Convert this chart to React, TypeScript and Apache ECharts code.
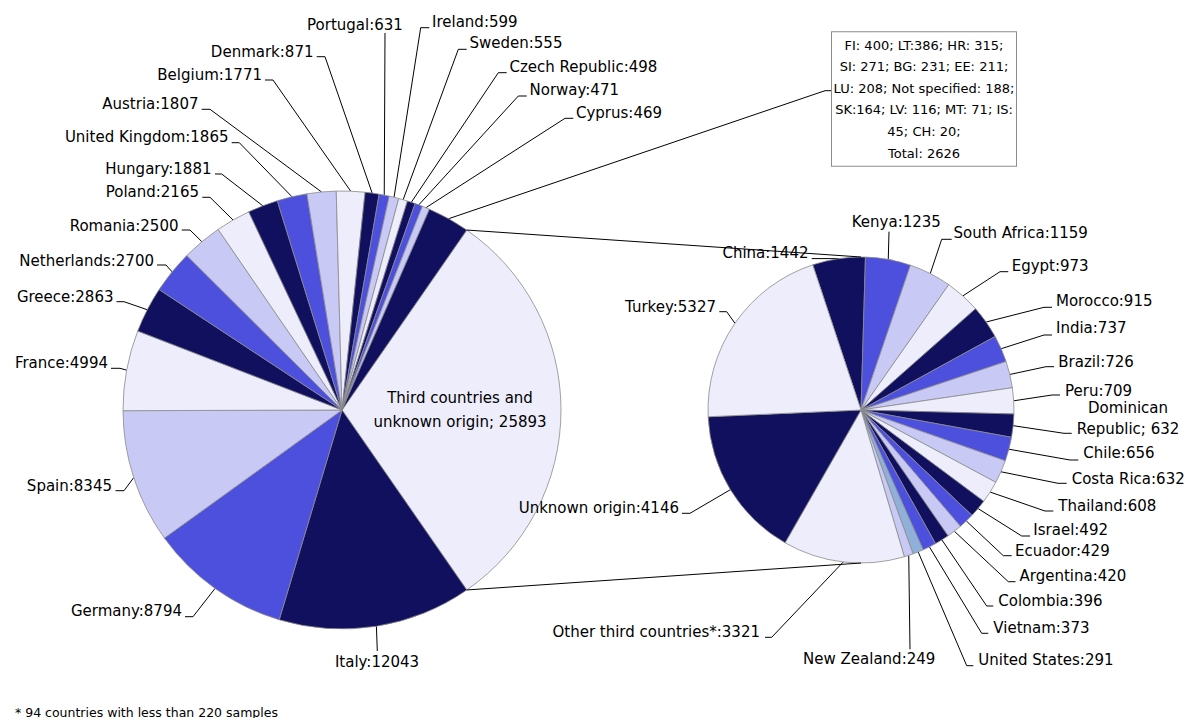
import React, { useEffect, useRef } from 'react';
import * as echarts from 'echarts';

// ---------- DATA ----------
const EU_NAMES = ['Italy', 'Germany', 'Spain', 'France', 'Greece', 'Netherlands', 'Romania', 'Poland', 'Hungary', 'United Kingdom', 'Austria', 'Belgium', 'Denmark', 'Portugal', 'Ireland', 'Sweden', 'Czech Republic', 'Norway', 'Cyprus'];
const EU_VALUES = [12043, 8794, 8345, 4994, 2863, 2700, 2500, 2165, 1881, 1865, 1807, 1771, 871, 631, 599, 555, 498, 471, 469];

const OTHER_EU_CODES = ['FI', 'LT', 'HR', 'SI', 'BG', 'EE', 'LU', 'Not specified', 'SK', 'LV', 'MT', 'IS', 'CH'];
const OTHER_EU_VALUES = [400, 386, 315, 271, 231, 211, 208, 188, 164, 116, 71, 45, 20];
const OTHER_NOTE_LINES = ['FI: 400; LT:386; HR: 315;', 'SI: 271; BG: 231; EE: 211;', 'LU: 208; Not specified: 188;', 'SK:164; LV: 116; MT: 71; IS:', '45; CH: 20;'];

const THIRD_NAME = 'Third countries and unknown origin';
const THIRD_TOTAL = 25893;

const NON_EU_NAMES = ['China', 'Kenya', 'South Africa', 'Egypt', 'Morocco', 'India', 'Brazil', 'Peru', 'Dominican Republic', 'Chile', 'Costa Rica', 'Thailand', 'Israel', 'Ecuador', 'Argentina', 'Colombia', 'Vietnam', 'United States', 'New Zealand', 'Other third countries*', 'Unknown origin', 'Turkey'];
const NON_EU_VALUES = [1442, 1235, 1159, 973, 915, 737, 726, 709, 632, 656, 632, 608, 492, 429, 420, 396, 373, 291, 249, 3321, 4146, 5327];

const FOOTNOTE = '* 94 countries with less than 220 samples';

// ---------- STYLE / LAYOUT ----------
const FONT = 'DejaVu Sans';
const NAVY = '#10105E';
const BLUE = '#4C50DD';
const LAV = '#C8C9F4';
const LIGHT = '#EDEDFB';
const STEEL = '#8FB0D8';

const LEFT_COLORS = [LIGHT, NAVY, BLUE, LAV, LIGHT, NAVY, BLUE, LAV, LIGHT, NAVY, BLUE, LAV, LIGHT, NAVY, BLUE, LAV, LIGHT, NAVY, BLUE, LAV, NAVY];
const RIGHT_COLORS = [NAVY, BLUE, LAV, LIGHT, NAVY, BLUE, LAV, LIGHT, NAVY, BLUE, LAV, LIGHT, NAVY, BLUE, LAV, NAVY, BLUE, STEEL, LAV, LIGHT, NAVY, LIGHT];

const LEFT_PIE = { cx: 342, cy: 410, r: 219 };
const RIGHT_PIE = { cx: 861, cy: 410, r: 153, startAngle: 108.4 };

type Spot = { x: number; y: number; align: 'left' | 'right' | 'center'; via?: number[][] };

const LEFT_SPOTS: Record<string, Spot> = {
  [THIRD_NAME]: { x: 460, y: 410, align: 'center' },
  Italy: { x: 377, y: 661.5, align: 'center', via: [[377.3, 651]] },
  Germany: { x: 182, y: 611, align: 'right', via: [[193, 616.7], [185, 616.7]] },
  Spain: { x: 112, y: 485.5, align: 'right', via: [[124, 490.7], [115.5, 490.7]] },
  France: { x: 108, y: 363, align: 'right', via: [[120, 368.3], [111, 368.3]] },
  Greece: { x: 113.5, y: 297, align: 'right', via: [[124, 301.7], [116.5, 301.7]] },
  Netherlands: { x: 154, y: 260.5, align: 'right', via: [[166, 265], [157, 265]] },
  Romania: { x: 178.5, y: 225.5, align: 'right', via: [[190, 230], [181.7, 230]] },
  Poland: { x: 199, y: 192, align: 'right', via: [[210, 197.3], [202.3, 197.3]] },
  Hungary: { x: 211.5, y: 169, align: 'right', via: [[221.7, 174], [215, 174]] },
  'United Kingdom': { x: 228.5, y: 137, align: 'right', via: [[239.3, 142.7], [231.7, 142.7]] },
  Austria: { x: 198.5, y: 104, align: 'right', via: [[210, 109.3], [201.7, 109.3]] },
  Belgium: { x: 262, y: 74.5, align: 'right', via: [[273, 80], [265, 80]] },
  Denmark: { x: 313.5, y: 51.5, align: 'right', via: [[325, 56.7], [316.7, 56.7]] },
  Portugal: { x: 355, y: 25, align: 'center', via: [[385, 33]] },
  Ireland: { x: 432, y: 22, align: 'left', via: [[420.7, 27.7], [429.3, 27.7]] },
  Sweden: { x: 469.5, y: 43, align: 'left', via: [[458.3, 49.3], [466.7, 49.3]] },
  'Czech Republic': { x: 509.5, y: 66.7, align: 'left', via: [[498.3, 72.7], [506.7, 72.7]] },
  Norway: { x: 529.5, y: 90, align: 'left', via: [[518.3, 96], [526.7, 96]] },
  Cyprus: { x: 576, y: 112.7, align: 'left', via: [[565, 118.3], [573.3, 118.3]] },
  Other: { x: 924, y: 99, align: 'center', via: [[825, 90.7], [832, 90.7]] },
};

const RIGHT_SPOTS: Record<string, Spot> = {
  China: { x: 808.5, y: 252.5, align: 'right', via: [[811.7, 258.6]] },
  Kenya: { x: 896.3, y: 222.3, align: 'center', via: [[889, 231.7]] },
  'South Africa': { x: 953.5, y: 233.3, align: 'left', via: [[941.7, 239.3], [951.7, 239.3]] },
  Egypt: { x: 1011.7, y: 265.7, align: 'left', via: [[1000, 271.7], [1008.3, 271.7]] },
  Morocco: { x: 1056, y: 301, align: 'left', via: [[1044, 307.3], [1052, 307.3]] },
  India: { x: 1056, y: 328, align: 'left', via: [[1044, 335], [1052, 335]] },
  Brazil: { x: 1058.3, y: 361.7, align: 'left', via: [[1046, 366.7], [1054, 366.7]] },
  Peru: { x: 1065, y: 390.7, align: 'left', via: [[1052, 395], [1060, 395]] },
  'Dominican Republic': { x: 1128, y: 418, align: 'center', via: [[1064, 433.3], [1071.7, 433.3]] },
  Chile: { x: 1083.3, y: 453.3, align: 'left', via: [[1070, 460], [1078.3, 460]] },
  'Costa Rica': { x: 1071.7, y: 479, align: 'left', via: [[1058, 483.3], [1066.7, 483.3]] },
  Thailand: { x: 1058.3, y: 506, align: 'left', via: [[1045, 511], [1053.3, 511]] },
  Israel: { x: 1033.3, y: 530, align: 'left', via: [[1021.7, 536], [1030, 536]] },
  Ecuador: { x: 1015, y: 550.7, align: 'left', via: [[1003.3, 555.7], [1011.7, 555.7]] },
  Argentina: { x: 1019.5, y: 575.5, align: 'left', via: [[1008.3, 581.7], [1015.5, 581.7]] },
  Colombia: { x: 998.3, y: 601, align: 'left', via: [[986.7, 606], [993.3, 606]] },
  Vietnam: { x: 993.3, y: 628.3, align: 'left', via: [[981.7, 633.3], [988.3, 633.3]] },
  'United States': { x: 978.3, y: 660, align: 'left', via: [[966.7, 665.7], [973.3, 665.7]] },
  'New Zealand': { x: 869.2, y: 659.3, align: 'center', via: [[910, 649.3]] },
  'Other third countries*': { x: 760, y: 631.7, align: 'right', via: [[771.7, 637.3], [765, 637.3]] },
  'Unknown origin': { x: 679, y: 508, align: 'right', via: [[690, 513.3], [682, 513.3]] },
  Turkey: { x: 716, y: 306.7, align: 'right', via: [[726.7, 311.7], [719.3, 311.7]] },
};

const sum = (a: number[]) => a.reduce((s, v) => s + v, 0);

function rimPoints(values: number[], cx: number, cy: number, r: number, startDeg: number) {
  const total = sum(values);
  let acc = 0;
  return values.map((v) => {
    const mid = (-startDeg + ((acc + v / 2) / total) * 360) * (Math.PI / 180);
    acc += v;
    return [cx + r * Math.cos(mid), cy + r * Math.sin(mid)];
  });
}

export default function App() {
  const ref = useRef<HTMLDivElement>(null);

  useEffect(() => {
    if (!ref.current) return;
    const chart = echarts.init(ref.current, undefined, { renderer: 'svg' });

    const otherTotal = sum(OTHER_EU_VALUES);
    const leftNames = [THIRD_NAME, ...EU_NAMES, 'Other'];
    const leftValues = [THIRD_TOTAL, ...EU_VALUES, otherTotal];
    const leftTotal = sum(leftValues);
    const leftStart = (THIRD_TOTAL / leftTotal) * 180;
    const leftRims = rimPoints(leftValues, LEFT_PIE.cx, LEFT_PIE.cy, LEFT_PIE.r, leftStart);
    const rightRims = rimPoints(NON_EU_VALUES, RIGHT_PIE.cx, RIGHT_PIE.cy, RIGHT_PIE.r, RIGHT_PIE.startAngle);

    const boxText = [...OTHER_NOTE_LINES, 'Total: ' + otherTotal].join('\n');

    const leftData = leftNames.map((name, i) => {
      const item: any = { name, value: leftValues[i], itemStyle: { color: LEFT_COLORS[i] } };
      if (name === THIRD_NAME) {
        item.labelLine = { show: false };
        item.label = { lineHeight: 24 };
      }
      if (name === 'Other') {
        item.label = {
          backgroundColor: '#ffffff',
          borderColor: '#8c8c8c',
          borderWidth: 1,
          padding: [2, 1],
          width: 182,
          overflow: 'none',
          lineHeight: 21.6,
          fontSize: 13,
          align: 'center',
        };
      }
      return item;
    });

    const rightData = NON_EU_NAMES.map((name, i) => {
      const item: any = { name, value: NON_EU_VALUES[i], itemStyle: { color: RIGHT_COLORS[i] } };
      if (name === 'Dominican Republic') item.label = { lineHeight: 21 };
      return item;
    });

    const makeLayout = (names: string[], spots: Record<string, Spot>, rims: number[][]) => (p: any) => {
      const name = names[p.dataIndex];
      const s = spots[name];
      if (!s) return {};
      const out: any = { x: s.x, y: s.y, align: s.align, verticalAlign: 'middle' };
      if (s.via) out.labelLinePoints = [rims[p.dataIndex], ...s.via];
      return out;
    };

    const common = {
      type: 'pie',
      clockwise: true,
      avoidLabelOverlap: false,
      emphasis: { disabled: true },
      itemStyle: { borderColor: '#8a8a8a', borderWidth: 0.8 },
      labelLine: { show: true, length: 10, length2: 8, smooth: false, lineStyle: { color: '#000', width: 1 } },
    };

    const upper = [LEFT_PIE.cx + LEFT_PIE.r * Math.cos((-leftStart * Math.PI) / 180), LEFT_PIE.cy + LEFT_PIE.r * Math.sin((-leftStart * Math.PI) / 180)];
    const lower = [upper[0], 2 * LEFT_PIE.cy - upper[1]];

    const option: any = {
      animation: false,
      backgroundColor: '#ffffff',
      textStyle: { fontFamily: FONT },
      series: [
        {
          ...common,
          name: 'EU',
          center: [LEFT_PIE.cx, LEFT_PIE.cy],
          radius: LEFT_PIE.r,
          startAngle: leftStart,
          data: leftData,
          label: {
            show: true,
            position: 'outside',
            color: '#000',
            fontFamily: FONT,
            fontSize: 15,
            formatter: (p: any) => {
              if (p.name === THIRD_NAME) return 'Third countries and\nunknown origin; ' + p.value;
              if (p.name === 'Other') return boxText;
              return p.name + ':' + p.value;
            },
          },
          labelLayout: makeLayout(leftNames, LEFT_SPOTS, leftRims),
        },
        {
          ...common,
          name: 'Third countries',
          center: [RIGHT_PIE.cx, RIGHT_PIE.cy],
          radius: RIGHT_PIE.r,
          startAngle: RIGHT_PIE.startAngle,
          data: rightData,
          label: {
            show: true,
            position: 'outside',
            color: '#000',
            fontFamily: FONT,
            fontSize: 15,
            formatter: (p: any) => {
              if (p.name === 'Dominican Republic') return 'Dominican\nRepublic; ' + p.value;
              return p.name + ':' + p.value;
            },
          },
          labelLayout: makeLayout(NON_EU_NAMES, RIGHT_SPOTS, rightRims),
        },
      ],
      graphic: [
        {
          type: 'line',
          z: 10,
          shape: { x1: upper[0], y1: upper[1], x2: RIGHT_PIE.cx, y2: RIGHT_PIE.cy - RIGHT_PIE.r },
          style: { stroke: '#000', lineWidth: 1 },
        },
        {
          type: 'line',
          z: 10,
          shape: { x1: lower[0], y1: lower[1], x2: RIGHT_PIE.cx, y2: RIGHT_PIE.cy + RIGHT_PIE.r },
          style: { stroke: '#000', lineWidth: 1 },
        },
        {
          type: 'text',
          z: 10,
          x: 15,
          y: 712,
          style: { text: FOOTNOTE, fill: '#000', fontSize: 12.5, fontFamily: FONT, align: 'left', verticalAlign: 'middle' },
        },
      ],
    };

    chart.setOption(option);
    return () => chart.dispose();
  }, []);

  return (
    <div
      ref={ref}
      style={{ position: 'fixed', left: 0, top: 0, width: 1190, height: 718, background: '#fff' }}
    />
  );
}
